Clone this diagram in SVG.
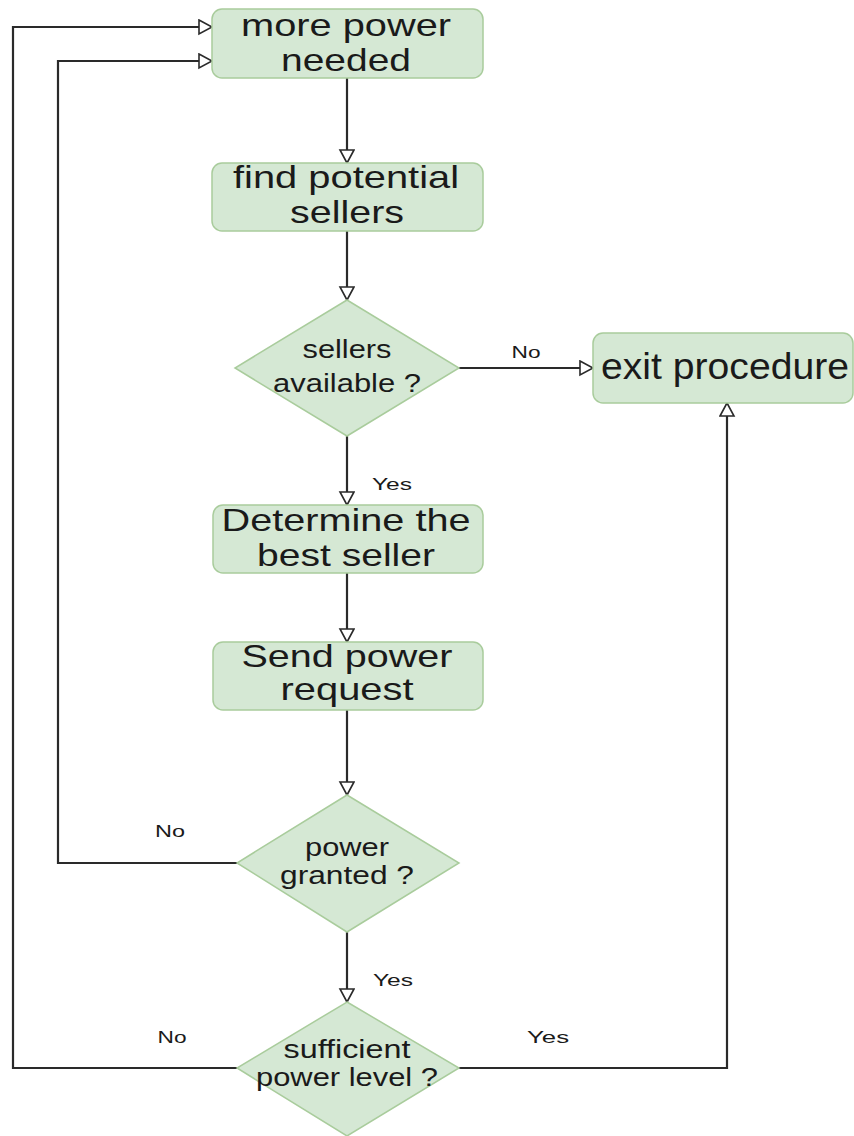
<svg xmlns="http://www.w3.org/2000/svg" width="854" height="1136" viewBox="0 0 854 1136">
  <style>
    .node { fill: #d5e8d4; stroke: #a9cc9c; stroke-width: 1.5; }
    .lbl { font-family: "Liberation Sans", Arial, sans-serif; fill: #1a1a1a; text-anchor: middle; }
    .big { font-size: 32px; }
    .exit { font-size: 37px; }
    .mid { font-size: 25px; }
    .tag { font-size: 17px; }
    .edge { fill: none; stroke: #2a2a2a; stroke-width: 2.2; }
  </style>
  <defs>
    <marker id="arrow" markerUnits="userSpaceOnUse" markerWidth="18" markerHeight="18" refX="14" refY="8" orient="auto">
      <path d="M1,1 L14,8 L1,15 Z" fill="#ffffff" stroke="#2a2a2a" stroke-width="1.6"/>
    </marker>
  </defs>
  <rect width="854" height="1136" fill="#ffffff"/>

  <g id="connectors">
    <path class="edge" d="M347,78 V163" marker-end="url(#arrow)"/>
    <path class="edge" d="M347,231 V300" marker-end="url(#arrow)"/>
    <path class="edge" d="M459,368 H593" marker-end="url(#arrow)"/>
    <path class="edge" d="M347,436 V505" marker-end="url(#arrow)"/>
    <path class="edge" d="M347,573 V642" marker-end="url(#arrow)"/>
    <path class="edge" d="M347,710 V795" marker-end="url(#arrow)"/>
    <path class="edge" d="M237,863 H58 V61 H212" marker-end="url(#arrow)"/>
    <path class="edge" d="M347,932 V1002" marker-end="url(#arrow)"/>
    <path class="edge" d="M237,1068 H13 V27 H212" marker-end="url(#arrow)"/>
    <path class="edge" d="M459,1068 H727 V403" marker-end="url(#arrow)"/>
    <text class="lbl tag" x="526" y="358" textLength="29" lengthAdjust="spacingAndGlyphs">No</text>
    <text class="lbl tag" x="392" y="490" textLength="40" lengthAdjust="spacingAndGlyphs">Yes</text>
    <text class="lbl tag" x="170" y="837" textLength="30" lengthAdjust="spacingAndGlyphs">No</text>
    <text class="lbl tag" x="393" y="986" textLength="40" lengthAdjust="spacingAndGlyphs">Yes</text>
    <text class="lbl tag" x="172" y="1043" textLength="29" lengthAdjust="spacingAndGlyphs">No</text>
    <text class="lbl tag" x="548" y="1043" textLength="42" lengthAdjust="spacingAndGlyphs">Yes</text>
  </g>

  <g id="more-power-needed">
    <rect class="node" x="212" y="9" width="271" height="69" rx="10"/>
    <text class="lbl big" x="346" y="36" textLength="210" lengthAdjust="spacingAndGlyphs">more power</text>
    <text class="lbl big" x="346" y="71" textLength="130" lengthAdjust="spacingAndGlyphs">needed</text>
  </g>

  <g id="find-potential-sellers">
    <rect class="node" x="212" y="163" width="271" height="68" rx="10"/>
    <text class="lbl big" x="346" y="188" textLength="226" lengthAdjust="spacingAndGlyphs">find potential</text>
    <text class="lbl big" x="347" y="223" textLength="114" lengthAdjust="spacingAndGlyphs">sellers</text>
  </g>

  <g id="sellers-available">
    <polygon class="node" points="347,300 459,368 347,436 235,368"/>
    <text class="lbl mid" x="347" y="358" textLength="89" lengthAdjust="spacingAndGlyphs">sellers</text>
    <text class="lbl mid" x="347" y="392" textLength="148" lengthAdjust="spacingAndGlyphs">available ?</text>
  </g>

  <g id="exit-procedure">
    <rect class="node" x="593" y="333" width="260" height="70" rx="10"/>
    <text class="lbl exit" x="725" y="379" textLength="248" lengthAdjust="spacingAndGlyphs">exit procedure</text>
  </g>

  <g id="determine-best-seller">
    <rect class="node" x="213" y="505" width="270" height="68" rx="10"/>
    <text class="lbl big" x="346" y="531" textLength="249" lengthAdjust="spacingAndGlyphs">Determine the</text>
    <text class="lbl big" x="346" y="566" textLength="178" lengthAdjust="spacingAndGlyphs">best seller</text>
  </g>

  <g id="send-power-request">
    <rect class="node" x="213" y="642" width="270" height="68" rx="10"/>
    <text class="lbl big" x="347" y="667" textLength="211" lengthAdjust="spacingAndGlyphs">Send power</text>
    <text class="lbl big" x="347" y="700" textLength="133" lengthAdjust="spacingAndGlyphs">request</text>
  </g>

  <g id="power-granted">
    <polygon class="node" points="347,795 459,863 347,932 237,863"/>
    <text class="lbl mid" x="347" y="856" textLength="84" lengthAdjust="spacingAndGlyphs">power</text>
    <text class="lbl mid" x="347" y="884" textLength="134" lengthAdjust="spacingAndGlyphs">granted ?</text>
  </g>

  <g id="sufficient-power-level">
    <polygon class="node" points="347,1002 459,1068 347,1136 237,1068"/>
    <text class="lbl mid" x="347" y="1058" textLength="127" lengthAdjust="spacingAndGlyphs">sufficient</text>
    <text class="lbl mid" x="347" y="1086" textLength="182" lengthAdjust="spacingAndGlyphs">power level ?</text>
  </g>
</svg>
